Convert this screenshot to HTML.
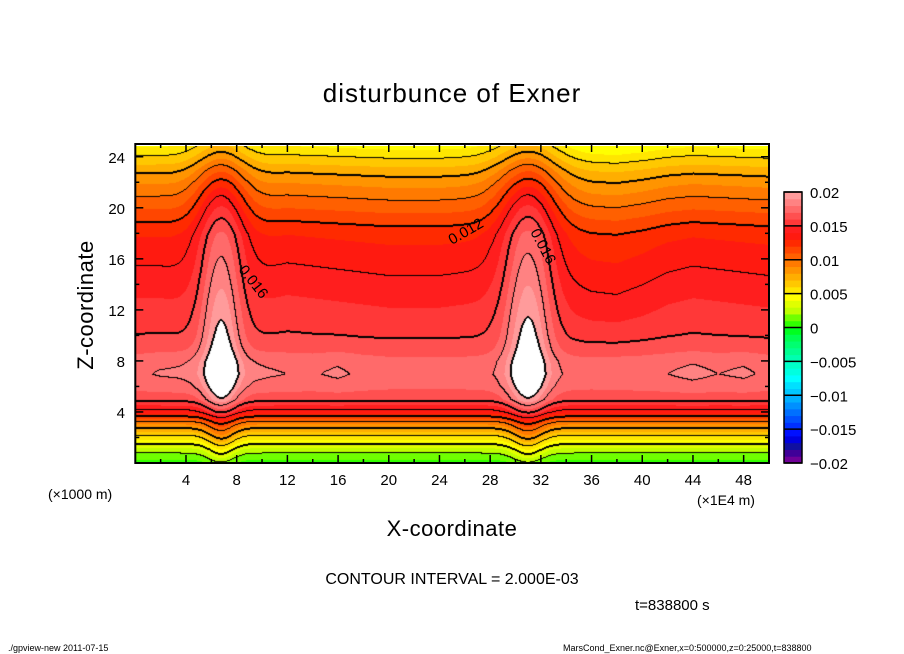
<!DOCTYPE html>
<html><head><meta charset="utf-8"><style>
body{margin:0;background:#fff;}
#wrap{position:relative;width:904px;height:654px;overflow:hidden;font-family:"Liberation Sans","DejaVu Sans",sans-serif;}
canvas{position:absolute;left:135px;top:146px;}
svg{position:absolute;left:0;top:0;}
</style></head><body>
<div id="wrap">
<canvas id="cv" width="634" height="317"></canvas>
<svg id="sv" width="904" height="654"></svg>
</div>
<script>
// ---- data ----
const zLevels = [0,1,2,3,4,5,6,7,8,9,10,11,12,13,14,15,16,17,18,19,20,21,22,23,24,25];
const baseProfile = [0.0005,0.0025,0.0055,0.0088,0.0135,0.0162,0.0172,0.0176,0.0173,0.0165,0.0159,0.0155,0.0151,0.0147,0.0143,0.0139,0.0135,0.0131,0.0126,0.0117,0.0107,0.0097,0.0087,0.0075,0.0060,0.0046];
const plumeZAmp = [0.3,0.5,0.6,0.6,0.55,0.75,0.85,0.95,0.95,0.97,1,1,1,1,1,1,1,1,1,1,1,0.95,0.85,0.75,0.65,0.55];
const xCols = [0,2,4,6,8,10,12,14,16,18,20,22,24,26,28,30,32,34,36,38,40,42,44,46,48,50];
const upperOffset = [0.0003,0.0003,0.0002,0,0,0.0002,0.0004,0.0003,0.0002,0.0001,0,0,0,0.0001,0.0002,0,0,-0.0002,-0.0005,-0.0006,-0.0003,0.0001,0.0003,0.0002,0.0001,0];
const midOffset = [0.0002,0.0005,0.0006,0.0006,0.0006,0.0006,0.0004,0.0003,0.0006,0.0002,0,0,0,0,0.0001,0.0002,0.0002,0.0001,0,0.0001,0.0002,0.0004,0.0007,0.0004,0.0006,0.0002];
const plumeX = [6.8, 31.0];
const plumeAmp = [0.0046, 0.0047];
const plumeWidth = [1.5, 1.7];
const cbTicks = [0.02,0.015,0.01,0.005,0,-0.005,-0.01,-0.015,-0.02];
const cbTickLabels = ["0.02","0.015","0.01","0.005","0","\u22120.005","\u22120.01","\u22120.015","\u22120.02"];
const xTicks = [4,8,12,16,20,24,28,32,36,40,44,48];
const zTicks = [4,8,12,16,20,24];
const colors = ["#700098","#400098","#1010a0","#0000e0","#0010ff","#0030ff","#0050ff","#0070ff","#0090ff","#00b0ff",
"#00c8ff","#00e0ff","#00ffff","#00ffe0","#00ffc8","#00ffb0","#00ff90","#00ff70","#00ff50","#00ff20",
"#30ff00","#70ff00","#c0ff00","#e0ff00","#ffff00","#ffe600","#ffc800","#ffae00","#ff9400","#ff7a00",
"#ff6000","#ff4600","#ff2a00","#ff1a10","#ff1e1e","#ff3838","#ff5050","#ff6a6a","#ff8282","#ff9b9b"];
// ---- axes ----
const X0=135.3,X1=769,Y0=463,Y1=144;
const sx = x => X0 + (x/50)*(X1-X0);
const sz = z => Y0 - (z/25)*(Y0-Y1);
const ix = px => (px/634)*50;
const iz = py => 25 - (py/317)*25;
function interp(arr, grid, v){
  if(v<=grid[0]) return arr[0];
  const n=grid.length-1; if(v>=grid[n]) return arr[n];
  const step=grid[1]-grid[0]; const i=Math.floor((v-grid[0])/step); const t=(v-grid[i])/step;
  return arr[i]*(1-t)+arr[i+1]*t;
}
function field(x,z){
  let v = interp(baseProfile,zLevels,z);
  const up = Math.min(1,Math.max(0,(z-8)/4));
  const mid = Math.exp(-Math.pow((z-7.2)/1.8,2));
  v += interp(upperOffset,xCols,x)*up + interp(midOffset,xCols,x)*mid;
  const za = interp(plumeZAmp,zLevels,z);
  for(let p=0;p<plumeX.length;p++){
    const sig = plumeWidth[p]*(0.55+z/50);
    const g = Math.exp(-Math.pow((x-plumeX[p])/sig,2)/2);
    v += plumeAmp[p]*g*za;
  }
  return v;
}
// ---- render field ----
const cv=document.getElementById('cv'), ctx=cv.getContext('2d');
const W=cv.width,Hh=cv.height;
const img=ctx.createImageData(W,Hh);
const rgb=colors.map(c=>[parseInt(c.slice(1,3),16),parseInt(c.slice(3,5),16),parseInt(c.slice(5,7),16)]);
const vals=new Float32Array(W*Hh);
for(let j=0;j<Hh;j++)for(let i=0;i<W;i++)vals[j*W+i]=field(ix(i+0.5),iz(j+0.5));
for(let k=0;k<W*Hh;k++){
  const v=vals[k]; let c;
  if(v>=0.02) c=[255,255,255]; else {let idx=Math.floor((v+0.02)/0.001); idx=Math.max(0,Math.min(39,idx)); c=rgb[idx];}
  img.data[k*4]=c[0];img.data[k*4+1]=c[1];img.data[k*4+2]=c[2];img.data[k*4+3]=255;
}
function blk(i,j){if(i<0||j<0||i>=W||j>=Hh)return;const k=(j*W+i)*4;img.data[k]=0;img.data[k+1]=0;img.data[k+2]=0;}
const lev=v=>Math.floor(v/0.002+1e-9);
for(let j=0;j<Hh;j++)for(let i=0;i<W;i++){
  const a=lev(vals[j*W+i]);
  const nb=[[i+1,j],[i,j+1]];
  for(const [ii,jj] of nb){
    if(ii>=W||jj>=Hh) continue;
    const b=lev(vals[jj*W+ii]);
    if(a!==b){const L=Math.max(a,b); if(L>10) continue; blk(i,j); if(L%2===0){blk(ii,jj);}}
  }
}
ctx.putImageData(img,0,0);
// ---- svg overlay ----
const NS="http://www.w3.org/2000/svg", sv=document.getElementById('sv');
function mk(tag,attrs,name,text){const e=document.createElementNS(NS,tag);for(const k in attrs)e.setAttribute(k,attrs[k]);


if(text!==undefined)e.textContent=text;sv.appendChild(e);return e;}
mk('rect',{x:X0,y:Y1,width:X1-X0,height:Y0-Y1,fill:'none',stroke:'#000','stroke-width':2},'plot-frame');
for(let x=2;x<50;x+=2){const L=(x%4===0)?8:4;
  mk('line',{x1:sx(x),x2:sx(x),y1:Y0,y2:Y0-L,stroke:'#000','stroke-width':1.5},'x-tick');
  mk('line',{x1:sx(x),x2:sx(x),y1:Y1,y2:Y1+L,stroke:'#000','stroke-width':1.5},'x-tick-top');}
for(let z=2;z<25;z+=2){const L=(z%4===0)?8:4;
  mk('line',{x1:X0,x2:X0+L,y1:sz(z),y2:sz(z),stroke:'#000','stroke-width':1.5},'z-tick');
  mk('line',{x1:X1,x2:X1-L,y1:sz(z),y2:sz(z),stroke:'#000','stroke-width':1.5},'z-tick-right');}
xTicks.forEach(x=>mk('text',{x:sx(x),y:485,'font-size':15,'text-anchor':'middle'},'x-tick-label',String(x)));
zTicks.forEach(z=>mk('text',{x:125,y:sz(z)+6,'font-size':15,'text-anchor':'end'},'z-tick-label',String(z)));
mk('text',{x:452,y:102,'font-size':26,'text-anchor':'middle','letter-spacing':1},'chart-title','disturbunce of Exner');
mk('text',{x:452,y:536,'font-size':22,'text-anchor':'middle','letter-spacing':0.5},'x-axis-title','X-coordinate');
mk('text',{x:0,y:0,'font-size':22,'text-anchor':'middle','letter-spacing':0.5,transform:'translate(93,305) rotate(-90)'},'y-axis-title','Z-coordinate');
mk('text',{x:48,y:499,'font-size':14},'y-unit-label','(\u00d71000 m)');
mk('text',{x:697,y:505,'font-size':14},'x-unit-label','(\u00d71E4 m)');
mk('text',{x:452,y:584,'font-size':16,'text-anchor':'middle'},'contour-interval-note','CONTOUR INTERVAL = 2.000E-03');
mk('text',{x:635,y:610,'font-size':15},'time-label','t=838800 s');
mk('text',{x:8,y:651,'font-size':9},'footer-left','./gpview-new   2011-07-15');
mk('text',{x:563,y:651,'font-size':9},'footer-right','MarsCond_Exner.nc@Exner,x=0:500000,z=0:25000,t=838800');
// contour labels
mk('text',{x:0,y:0,'font-size':15,transform:'translate(238,270) rotate(52)'},'contour-label','0.016');
mk('text',{x:0,y:0,'font-size':15,transform:'translate(452,245) rotate(-30)'},'contour-label','0.012');
mk('text',{x:0,y:0,'font-size':15,transform:'translate(530,232) rotate(62)'},'contour-label','0.016');
// colorbar
const CB0=463,CB1=192,CBX=784,CBW=18;
const cy=v=>CB0-((v+0.02)/0.04)*(CB0-CB1);
colors.forEach((c,i)=>{const lo=-0.02+i*0.001;
  mk('rect',{x:CBX,y:cy(lo+0.001),width:CBW,height:cy(lo)-cy(lo+0.001)+0.5,fill:c},'colorbar-band');});
cbTicks.forEach(v=>mk('line',{x1:CBX,x2:CBX+CBW,y1:cy(v),y2:cy(v),stroke:'#000','stroke-width':1.5},'colorbar-separator'));
mk('rect',{x:CBX,y:CB1,width:CBW,height:CB0-CB1,fill:'none',stroke:'#000','stroke-width':1.5},'colorbar-frame');
cbTicks.forEach((v,i)=>mk('text',{x:810,y:cy(v)+6,'font-size':15},'colorbar-label',cbTickLabels[i]));
</script>
</body></html>
